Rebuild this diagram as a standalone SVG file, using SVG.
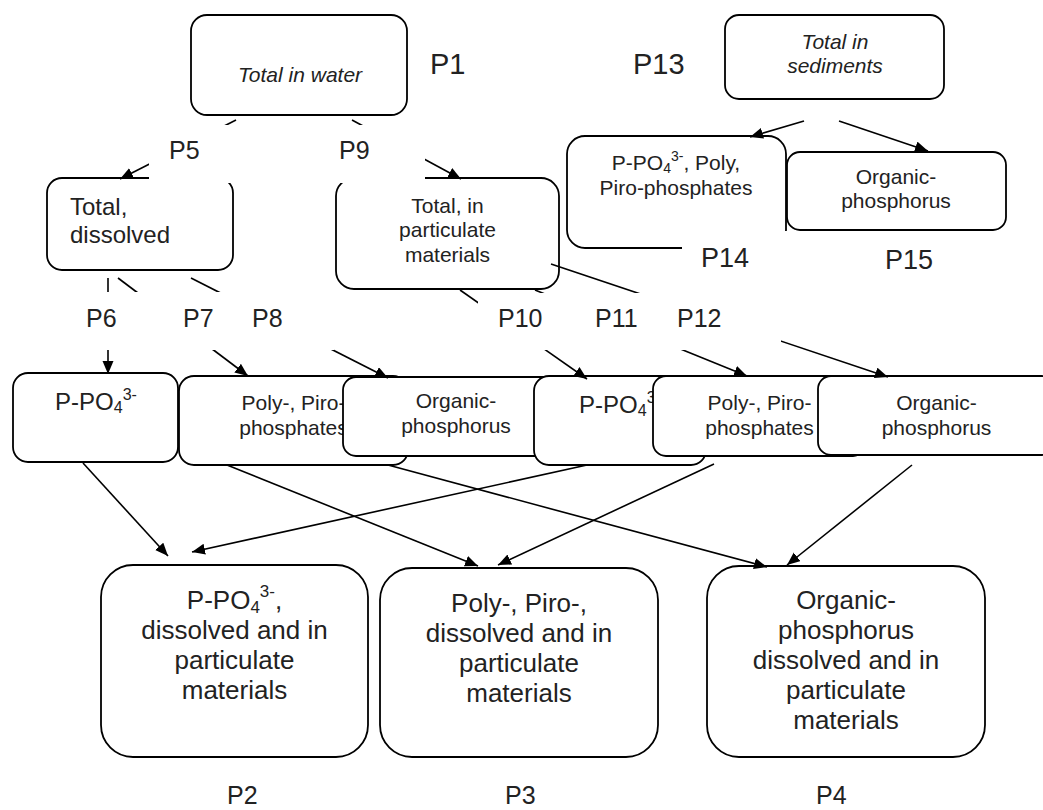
<svg xmlns="http://www.w3.org/2000/svg" width="1043" height="810" viewBox="0 0 1043 810">
<defs>
<style>
.box{fill:#fff;stroke:#000;stroke-width:1.8}
.ln{stroke:#000;stroke-width:1.6;fill:none;marker-end:url(#ah)}
.lbl{fill:#fff;stroke:none}
text{font-family:"Liberation Sans",Arial,sans-serif;fill:#222}
.c{text-anchor:middle}
.i{font-style:italic}
.s21{font-size:21px}
.s24{font-size:24px}
.s26{font-size:26px}
.p25{font-size:25px}
.p27{font-size:27px}
.p29{font-size:29px}
</style>
<marker id="ah" markerUnits="userSpaceOnUse" markerWidth="14" markerHeight="12" refX="13" refY="5.5" orient="auto">
<path d="M0,0 L13,5.5 L0,11 z" fill="#000"/>
</marker>
</defs>
<rect width="1043" height="810" fill="#fff"/>

<g id="n_water"><rect class="box" x="191" y="15" width="216" height="100" rx="16"/>
<text class="s21 c i" x="300" y="82">Total in water</text></g>
<g id="n_sed"><rect class="box" x="725" y="15" width="219" height="84" rx="14"/>
<text class="s21 c i" x="835" y="49">Total in</text><text class="s21 c i" x="835" y="73">sediments</text></g>
<g id="n_dis"><rect class="box" x="47" y="178" width="186" height="92" rx="15"/>
<text class="s24" x="70" y="215">Total,</text><text class="s24" x="70" y="243">dissolved</text></g>
<g id="n_part"><rect class="box" x="336" y="178" width="223" height="111" rx="18"/>
<text class="s21 c" x="447.5" y="213">Total, in</text><text class="s21 c" x="447.5" y="237">particulate</text><text class="s21 c" x="447.5" y="262">materials</text></g>
<g id="n_sedpo4"><rect class="box" x="567" y="136" width="219" height="112" rx="18"/>
<text class="s21 c" x="676" y="170">P-PO<tspan font-size="14" dy="3">4</tspan><tspan font-size="14" dy="-12">3-</tspan><tspan dy="9">, Poly,</tspan></text>
<text class="s21 c" x="676" y="195">Piro-phosphates</text></g>
<g id="n_sedorg"><rect class="box" x="787" y="152" width="219" height="78" rx="13"/>
<text class="s21 c" x="896" y="184">Organic-</text><text class="s21 c" x="896" y="208">phosphorus</text></g>

<g id="n_po4a"><rect class="box" x="13" y="373" width="165" height="89" rx="15"/>
<text class="s24 c" x="96" y="410">P-PO<tspan font-size="16" dy="3">4</tspan><tspan font-size="16" dy="-13">3-</tspan></text></g>
<g id="n_polya"><rect class="box" x="179" y="376" width="229" height="89" rx="15"/>
<text class="s21 c" x="293.5" y="410">Poly-, Piro-</text><text class="s21 c" x="293.5" y="435">phosphates</text></g>
<g id="n_orga"><rect class="box" x="343" y="377" width="226" height="79" rx="13"/>
<text class="s21 c" x="456" y="408">Organic-</text><text class="s21 c" x="456" y="433">phosphorus</text></g>
<g id="n_po4b"><rect class="box" x="534" y="376" width="172" height="89" rx="15"/>
<text class="s24 c" x="620" y="413">P-PO<tspan font-size="16" dy="3">4</tspan><tspan font-size="16" dy="-13">3-</tspan></text></g>
<g id="n_polyb"><rect class="box" x="653" y="376" width="213" height="80" rx="13"/>
<text class="s21 c" x="759.5" y="410">Poly-, Piro-</text><text class="s21 c" x="759.5" y="435">phosphates</text></g>
<g id="n_orgb"><rect class="box" x="818" y="376" width="237" height="79" rx="13"/>
<text class="s21 c" x="936.5" y="410">Organic-</text><text class="s21 c" x="936.5" y="435">phosphorus</text></g>

<g id="n_p2"><rect class="box" x="101" y="565" width="267" height="192" rx="32"/>
<text class="s26 c" x="234.5" y="609">P-PO<tspan font-size="17" dy="4">4</tspan><tspan font-size="17" dy="-16">3-</tspan><tspan dy="12">,</tspan></text>
<text class="s26 c" x="234.5" y="639">dissolved and in</text><text class="s26 c" x="234.5" y="669">particulate</text><text class="s26 c" x="234.5" y="699">materials</text></g>
<g id="n_p3"><rect class="box" x="380" y="568" width="278" height="189" rx="32"/>
<text class="s26 c" x="519" y="612">Poly-, Piro-,</text><text class="s26 c" x="519" y="642">dissolved and in</text><text class="s26 c" x="519" y="672">particulate</text><text class="s26 c" x="519" y="702">materials</text></g>
<g id="n_p4"><rect class="box" x="707" y="566" width="278" height="191" rx="32"/>
<text class="s26 c" x="846" y="609">Organic-</text><text class="s26 c" x="846" y="639">phosphorus</text><text class="s26 c" x="846" y="669">dissolved and in</text><text class="s26 c" x="846" y="699">particulate</text><text class="s26 c" x="846" y="729">materials</text></g>

<g id="connectors">
<line class="ln" x1="236" y1="120" x2="120" y2="179"/>
<line class="ln" x1="352" y1="120" x2="461" y2="179"/>
<line class="ln" x1="108" y1="278" x2="108" y2="374"/>
<line class="ln" x1="118" y1="278" x2="248" y2="376"/>
<line class="ln" x1="191" y1="278" x2="388" y2="378"/>
<line class="ln" x1="460" y1="290" x2="587" y2="379"/>
<line class="ln" x1="535" y1="290" x2="747" y2="376"/>
<line class="ln" x1="551" y1="264" x2="888" y2="377"/>
<line class="ln" x1="804" y1="121" x2="750" y2="137"/>
<line class="ln" x1="839" y1="121" x2="928" y2="151"/>
<line class="ln" x1="83" y1="463" x2="168" y2="556"/>
<line class="ln" x1="587" y1="465" x2="192" y2="552"/>
<line class="ln" x1="227" y1="465" x2="478" y2="566"/>
<line class="ln" x1="714" y1="464" x2="498" y2="565"/>
<line class="ln" x1="388" y1="465" x2="767" y2="567"/>
<line class="ln" x1="912" y1="465" x2="787" y2="565"/>
</g>

<g id="lbl_p1"><text class="p29" x="430" y="74">P1</text></g>
<g id="lbl_p13"><text class="p29" x="633" y="74">P13</text></g>
<g id="lbl_p5"><rect class="lbl" x="149" y="125" width="86" height="58"/><text class="p25" x="169" y="159">P5</text></g>
<g id="lbl_p9"><rect class="lbl" x="330" y="125" width="95" height="58"/><text class="p25" x="339" y="159">P9</text></g>
<g id="lbl_p6_p8"><rect class="lbl" x="95" y="292" width="239" height="58"/>
<text class="p25" x="86" y="327">P6</text><text class="p25" x="183" y="327">P7</text><text class="p25" x="252" y="327">P8</text></g>
<g id="lbl_p10_p12"><rect class="lbl" x="478" y="293" width="303" height="57"/>
<text class="p25" x="498" y="327">P10</text><text class="p25" x="595" y="327">P11</text><text class="p25" x="677" y="327">P12</text></g>
<g id="lbl_p14"><rect class="lbl" x="682" y="231" width="108" height="50"/><text class="p27" x="701" y="267">P14</text></g>
<g id="lbl_p15"><text class="p27" x="885" y="269">P15</text></g>
<g id="lbl_p2"><text class="p25" x="227" y="804">P2</text></g>
<g id="lbl_p3"><text class="p25" x="505" y="804">P3</text></g>
<g id="lbl_p4"><text class="p25" x="816" y="804">P4</text></g>
</svg>
